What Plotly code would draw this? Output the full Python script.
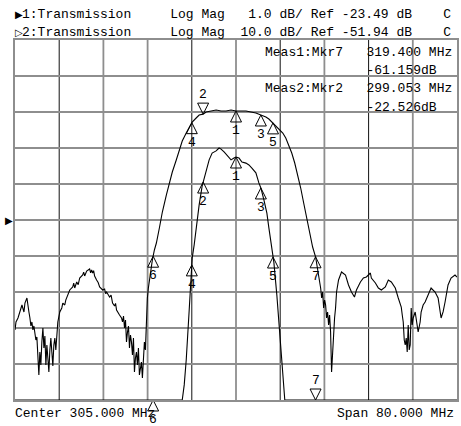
import numpy as np
import plotly.graph_objects as go

# ---------------- data ----------------
center_mhz = 305.0
span_mhz = 80.0
ref1_db, scale1 = -23.49, 1.0     # trace 1: 1 dB/div
ref2_db, scale2 = -51.94, 10.0    # trace 2: 10 dB/div
n_div = 10
ref_div = 5                        # reference line position (divisions from bottom)

trace1_freq = [265.0, 270.0, 275.0, 280.0, 285.0, 290.0, 293.0, 294.5, 295.27, 295.63,
               295.99, 296.53, 297.07, 297.43, 297.79, 298.33, 298.87, 299.59, 300.14, 300.68,
               301.40, 301.94, 302.30, 302.84, 303.38, 304.10, 304.64, 305.00, 305.54, 306.08,
               306.80, 307.34, 307.88, 308.60, 309.14, 309.50, 310.05, 310.59, 310.95, 311.49,
               311.85, 312.39, 312.75, 313.11, 313.47, 313.83, 314.5, 316.0, 319.4, 325.0,
               330.0, 335.0, 340.0, 345.0]
trace1_db = [-63.0, -65.0, -60.0, -58.0, -52.0, -45.0, -36.0, -31.0, -28.6, -28.07,
             -27.38, -25.99, -24.55, -24.18, -23.71, -23.07, -22.55, -22.10, -21.82, -21.63,
             -21.57, -21.49, -21.52, -21.60, -21.69, -21.82, -21.77, -21.74, -21.77, -21.88,
             -21.91, -21.96, -22.05, -22.18, -22.46, -22.60, -22.93, -23.30, -23.71, -24.32,
             -24.66, -25.57, -26.27, -26.96, -27.80, -28.49, -31.0, -40.0, -61.16, -58.0,
             -62.0, -60.0, -64.0, -61.0]

trace2_freq = [
    265.0, 265.18, 265.54, 265.90, 266.26, 266.62, 266.80, 267.16, 267.34,
    267.52, 267.70, 267.88, 268.06, 268.24, 268.42, 268.60, 268.78, 268.96, 269.14,
    269.32, 269.50, 269.68, 269.86, 270.05, 270.23, 270.41, 270.59, 270.77, 270.95,
    271.13, 271.31, 271.49, 271.67, 271.85, 272.03, 272.21, 272.39, 272.57, 272.75,
    273.11, 273.47, 273.65, 274.01, 274.19, 274.37, 274.91, 275.45, 275.63, 275.81,
    276.17, 276.44, 276.71, 277.25, 277.43, 277.61, 277.97, 278.51, 278.69, 278.87,
    279.05, 279.23, 279.41, 279.77, 280.05, 280.32, 280.86, 281.22, 281.40, 281.58,
    282.12, 282.39, 282.66, 283.02, 283.20, 283.38, 283.65, 283.92,
    284.28, 284.46, 284.64, 284.82, 285.00, 285.18, 285.36, 285.54, 285.72, 285.90,
    286.08, 286.26, 286.44, 286.62, 286.80, 286.98, 287.16, 287.34, 287.52, 287.70,
    287.88, 288.06, 288.24, 288.42, 288.60, 288.78, 288.96,
    289.14, 289.50, 289.86, 290.23, 290.59, 291.13, 291.67, 292.39, 292.93, 293.47,
    294.19, 294.73, 295.27, 295.99, 296.53, 297.07, 297.79, 298.33, 299.05, 299.59,
    300.50, 301.40, 302.30, 303.20, 304.10, 305.00, 305.90, 306.80, 307.70, 308.60,
    309.50, 310.41, 310.95, 311.49, 312.21, 312.75, 313.47, 314.01, 314.55, 315.09,
    315.63, 316.17, 316.71, 317.25, 317.79, 318.33, 318.87, 319.41,
    319.95, 320.14, 320.32, 320.50, 320.68, 320.86, 321.04, 321.22, 321.40, 321.58,
    321.76, 321.94, 322.12, 322.30, 322.48, 322.66, 322.84, 323.02,
    323.20, 323.56, 324.10, 324.82, 325.36, 325.90, 326.44, 326.80, 327.52, 328.06,
    328.60, 328.96, 329.32, 329.50, 330.23, 330.77, 331.31, 332.03, 332.57, 333.11,
    333.83, 334.37,
    334.91, 335.09, 335.27, 335.45, 335.63, 335.81, 335.99, 336.17, 336.35, 336.53,
    336.71, 336.89, 337.07,
    337.43, 337.97, 338.33, 338.51, 338.87, 339.23, 339.77, 340.31, 341.03, 341.58,
    342.12, 342.48, 342.84, 343.38, 343.92, 344.64, 345.0]
trace2_db = [
    -82.49, -80.27, -79.16, -76.94, -75.55, -77.49, -75.0, -73.61, -76.38,
    -77.49, -79.16, -81.38, -80.27, -82.49, -81.38, -83.60, -85.27, -84.44, -89.44,
    -95.0, -88.60, -92.22, -85.83, -81.94, -87.49, -84.16, -92.22, -86.66, -90.27,
    -94.16, -88.05, -84.72, -88.60, -92.49, -86.66, -84.72, -88.05, -83.05, -80.27,
    -77.49, -76.38, -75.0, -75.55, -74.2, -73.33, -71.38, -70.55, -69.5, -70.83,
    -69.16, -69.9, -68.05, -67.22, -66.4, -67.49, -66.11, -65.55, -66.6, -65.83,
    -66.66, -66.0, -67.49, -68.61, -69.3, -70.55, -71.38, -71.10, -72.4, -71.94,
    -73.33, -72.8, -75.0, -75.83, -75.1, -76.94, -77.8, -78.33,
    -79.16, -80.27, -78.61, -81.94, -79.72, -85.83, -83.05, -81.38, -87.49, -83.88,
    -85.83, -89.44, -84.72, -94.16, -90.27, -88.60, -92.22, -87.49, -95.0, -93.05,
    -91.38, -95.83, -89.44, -85.83, -88.05, -79.16, -73.61,
    -70.83, -66.38, -63.05, -60.27, -58.33, -54.16, -49.72, -45.0, -41.38, -38.61,
    -35.27, -32.50, -29.99, -27.77, -26.11, -24.72, -23.61, -22.77, -22.53, -21.94,
    -21.66, -21.38, -21.66, -21.66, -21.38, -21.66, -21.66, -21.66, -21.94, -22.22,
    -22.77, -23.33, -23.89, -24.72, -25.55, -26.38, -27.77, -29.16, -31.11, -33.33,
    -36.11, -39.44, -43.05, -47.22, -51.38, -55.27, -59.44, -62.22,
    -67.22, -69.16, -70.83, -73.61, -71.94, -76.38, -74.16, -75.55, -79.16, -77.49,
    -81.11, -78.33, -83.05, -94.16, -88.05, -85.83, -79.16, -76.38,
    -71.94, -68.61, -66.38, -67.22, -70.0, -71.94, -73.33, -71.38, -69.16, -68.05,
    -67.77, -67.22, -66.66, -68.05, -69.44, -70.83, -71.38, -70.55, -68.61, -69.16,
    -70.83, -73.61,
    -76.11, -78.33, -80.27, -85.27, -86.66, -84.72, -88.60, -81.11, -88.05, -86.66,
    -76.38, -81.11, -79.16,
    -77.49, -83.05, -80.27, -77.49, -75.55, -74.72, -72.77, -70.83, -71.94, -73.61,
    -79.16, -77.49, -74.72, -70.0, -68.05, -67.22, -67.77]

marker_freq = [305.0, 299.053, 309.5, 297.0, 311.7, 290.0, 319.4]
marker_labels = ["1", "2", "3", "4", "5", "6", "7"]
active_marker_t1 = "7"
active_marker_t2 = "2"

readout1 = ("Meas1", "Mkr7", 319.400, -61.159)
readout2 = ("Meas2", "Mkr2", 299.053, -22.526)

# ---------------- styling / geometry ----------------
W, H = 461, 426
L, R, T, B = 15, 2, 40, 26
PW, PH = W - L - R, H - T - B
GRAY = "#8e8e8e"
FONT = "Liberation Mono"
NB = "\u00a0"

f_lo = center_mhz - span_mhz / 2
f_hi = center_mhz + span_mhz / 2
y1_lo = ref1_db - ref_div * scale1
y1_hi = y1_lo + n_div * scale1
y2_lo = ref2_db - ref_div * scale2
y2_hi = y2_lo + n_div * scale2


def px_x(p):
    return (p - L) / PW


def px_y(p):
    return (T + PH - p) / PH


t1_disp = np.clip(np.array(trace1_db), y1_lo, y1_hi)
t2_disp = np.clip(np.array(trace2_db), y2_lo, y2_hi)

fig = go.Figure()

# vertical graticule
dark_divs = [1, 4, 6, 8]
shapes = []
for i in range(1, n_div):
    xv = f_lo + i * span_mhz / n_div
    dark = i in dark_divs
    shapes.append(dict(type="line", xref="x", yref="paper", x0=xv, x1=xv, y0=0, y1=1,
                       line=dict(color="#111111" if dark else GRAY, width=1 if dark else 1.8),
                       layer="below"))

fig.add_trace(go.Scatter(x=trace2_freq, y=t2_disp, yaxis="y2", mode="lines",
                         line=dict(color="black", width=1.1), hoverinfo="skip"))
fig.add_trace(go.Scatter(x=trace1_freq, y=t1_disp, yaxis="y", mode="lines",
                         line=dict(color="black", width=1.1), hoverinfo="skip"))

m1 = np.interp(marker_freq, trace1_freq, t1_disp)
m2 = np.interp(marker_freq, trace2_freq, t2_disp)

annotations = []
tri = 11
for vals, yax, active in ((m1, "y", active_marker_t1), (m2, "y2", active_marker_t2)):
    up_x, up_y, dn_x, dn_y = [], [], [], []
    for f, v, lab in zip(marker_freq, vals, marker_labels):
        if lab == active:
            dn_x.append(f); dn_y.append(v)
            annotations.append(dict(x=f, y=v, xref="x", yref=yax, text=lab, showarrow=False,
                                    xanchor="center", yanchor="bottom", yshift=tri - 1,
                                    font=dict(family=FONT, size=13, color="black")))
        else:
            up_x.append(f); up_y.append(v)
            annotations.append(dict(x=f, y=v, xref="x", yref=yax, text=lab, showarrow=False,
                                    xanchor="center", yanchor="top", yshift=-(tri - 1),
                                    font=dict(family=FONT, size=13, color="black")))
    fig.add_trace(go.Scatter(x=up_x, y=up_y, yaxis=yax, mode="markers", cliponaxis=False,
                             marker=dict(symbol="arrow-up-open", size=tri, color="black",
                                         line=dict(color="black", width=1)),
                             hoverinfo="skip"))
    fig.add_trace(go.Scatter(x=dn_x, y=dn_y, yaxis=yax, mode="markers", cliponaxis=False,
                             marker=dict(symbol="arrow-down-open", size=tri, color="black",
                                         line=dict(color="black", width=1)),
                             hoverinfo="skip"))

# header
line1 = ("1:Transmission" + NB * 5 + "Log" + NB + "Mag" + NB * 3 +
         f"{scale1:.1f}" + NB + "dB/" + NB + "Ref" + NB + f"{ref1_db:.2f}" + NB + "dB" + NB * 4 + "C")
line2 = ("2:Transmission" + NB * 5 + "Log" + NB + "Mag" + NB * 2 +
         f"{scale2:.1f}" + NB + "dB/" + NB + "Ref" + NB + f"{ref2_db:.2f}" + NB + "dB" + NB * 4 + "C")


def txt(px, py, s, anchor="left", size=13, family=FONT):
    annotations.append(dict(x=px_x(px), y=px_y(py), xref="paper", yref="paper", text=s,
                            showarrow=False, xanchor=anchor, yanchor="middle", borderpad=0,
                            font=dict(family=family, size=size, color="black")))


txt(14, 14, "\u25b6", size=10, family="DejaVu Sans")
txt(21, 14, line1)
txt(14, 32, "\u25b7", size=10, family="DejaVu Sans")
txt(21, 32, line2)

for (meas, mkr, fr, val), yy in ((readout1, 52), (readout2, 89)):
    txt(265, yy, f"{meas}:{mkr}" + NB * 3 + f"{fr:.3f}" + NB + "MHz")
    txt(265, yy + 18, NB * 13 + f"{val:.3f}dB")

txt(14, 413, f"Center{NB}{center_mhz:.3f}{NB}MHz")
txt(337, 413, f"Span{NB}{span_mhz:.3f}{NB}MHz")

# reference position arrow (trace 1)
annotations.append(dict(x=0, y=ref1_db, xref="paper", yref="y", text="\u25b6", showarrow=False,
                        xanchor="right", yanchor="middle", xshift=-1, borderpad=0,
                        font=dict(family="DejaVu Sans", size=10, color="black")))

fig.update_layout(
    width=W, height=H,
    margin=dict(l=L, r=R, t=T, b=B, pad=0),
    paper_bgcolor="white", plot_bgcolor="white",
    showlegend=False,
    font=dict(family=FONT, size=13, color="black"),
    xaxis=dict(range=[f_lo, f_hi], showticklabels=False, ticks="", showgrid=False,
               zeroline=False, showline=True, mirror=True, linecolor=GRAY, linewidth=1.8,
               fixedrange=True),
    yaxis=dict(range=[y1_lo, y1_hi], tick0=y1_lo, dtick=scale1, showticklabels=False,
               ticks="", showgrid=True, gridcolor=GRAY, gridwidth=1.8, zeroline=False,
               showline=True, mirror=True, linecolor=GRAY, linewidth=1.8, fixedrange=True),
    yaxis2=dict(range=[y2_lo, y2_hi], overlaying="y", showticklabels=False, ticks="",
                showgrid=False, zeroline=False, showline=False, fixedrange=True),
    shapes=shapes,
    annotations=annotations,
)

fig.write_html("out.html", config={"displayModeBar": False},
               post_script="document.body.style.margin='0';document.body.style.overflow='hidden';")
